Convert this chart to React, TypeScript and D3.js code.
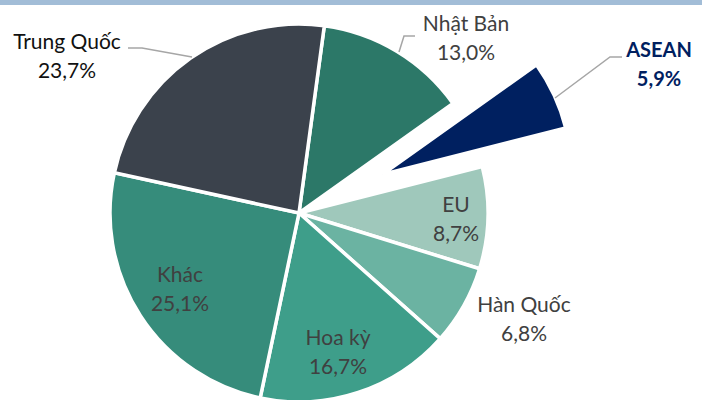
import React from "react";
import * as d3 from "d3";

const categories = ["Nhật Bản", "ASEAN", "EU", "Hàn Quốc", "Hoa kỳ", "Khác", "Trung Quốc"];
const values = [13.0, 5.9, 8.7, 6.8, 16.7, 25.1, 23.7];
const valueLabels = ["13,0%", "5,9%", "8,7%", "6,8%", "16,7%", "25,1%", "23,7%"];
const colors = ["#2c7868", "#002060", "#9fc8bb", "#6bb3a2", "#3e9e8a", "#368c7b", "#3b424c"];
const exploded = [0, 92, 0, 0, 0, 0, 0];

const W = 702;
const H = 400;
const cx = 299;
const cy = 213;
const R = 189;
const startDeg = 7.7;

// label anchors (centre x, first baseline)
const labelPos: [number, number][] = [
  [466, 31],
  [659, 57],
  [456, 212],
  [524, 312],
  [338, 345],
  [180, 282],
  [67, 49],
];
const leaders: Record<number, [number, number][]> = {
  0: [[415, 36], [404, 36], [399, 52]],
  1: [[622, 57], [610, 57], [555, 98]],
  6: [[128, 48], [142, 48], [192, 57]],
};

export default function App() {
  const pie = d3
    .pie<number>()
    .sort(null)
    .startAngle((startDeg * Math.PI) / 180)
    .endAngle((startDeg * Math.PI) / 180 + 2 * Math.PI);
  const arcs = pie(values);
  const arcGen = d3.arc<d3.PieArcDatum<number>>().innerRadius(0).outerRadius(R);

  return (
    <svg width={W} height={H} style={{ position: "absolute", left: 0, top: 0 }}>
      <rect x={0} y={0} width={W} height={H} fill="#ffffff" />
      <rect x={0} y={0} width={W} height={5} fill="#a2bdd7" />
      <g transform={`translate(${cx},${cy})`}>
        {arcs.map((a, i) => {
          const mid = (a.startAngle + a.endAngle) / 2;
          const dx = Math.sin(mid) * exploded[i];
          const dy = -Math.cos(mid) * exploded[i];
          return (
            <path
              key={i}
              d={arcGen(a) || ""}
              transform={`translate(${dx},${dy})`}
              fill={colors[i]}
              stroke="#ffffff"
              strokeWidth={3.5}
              strokeLinejoin="miter"
            />
          );
        })}
      </g>
      {Object.entries(leaders).map(([k, pts]) => (
        <polyline
          key={k}
          points={pts.map((p) => p.join(",")).join(" ")}
          fill="none"
          stroke="#a6a6a6"
          strokeWidth={1.5}
        />
      ))}
      {categories.map((c, i) => {
        const [x, y] = labelPos[i];
        const isAsean = i === 1;
        const fill = isAsean ? "#002060" : i === 6 ? "#111111" : "#404040";
        return (
          <text
            key={c}
            x={x}
            y={y}
            textAnchor="middle"
            fontFamily="Lato, 'Open Sans', sans-serif"
            fontSize={isAsean ? 20 : 21}
            fontWeight={isAsean ? 700 : 400}
            fill={fill}
          >
            <tspan x={x}>{c}</tspan>
            <tspan x={x} dy={29}>
              {valueLabels[i]}
            </tspan>
          </text>
        );
      })}
    </svg>
  );
}
